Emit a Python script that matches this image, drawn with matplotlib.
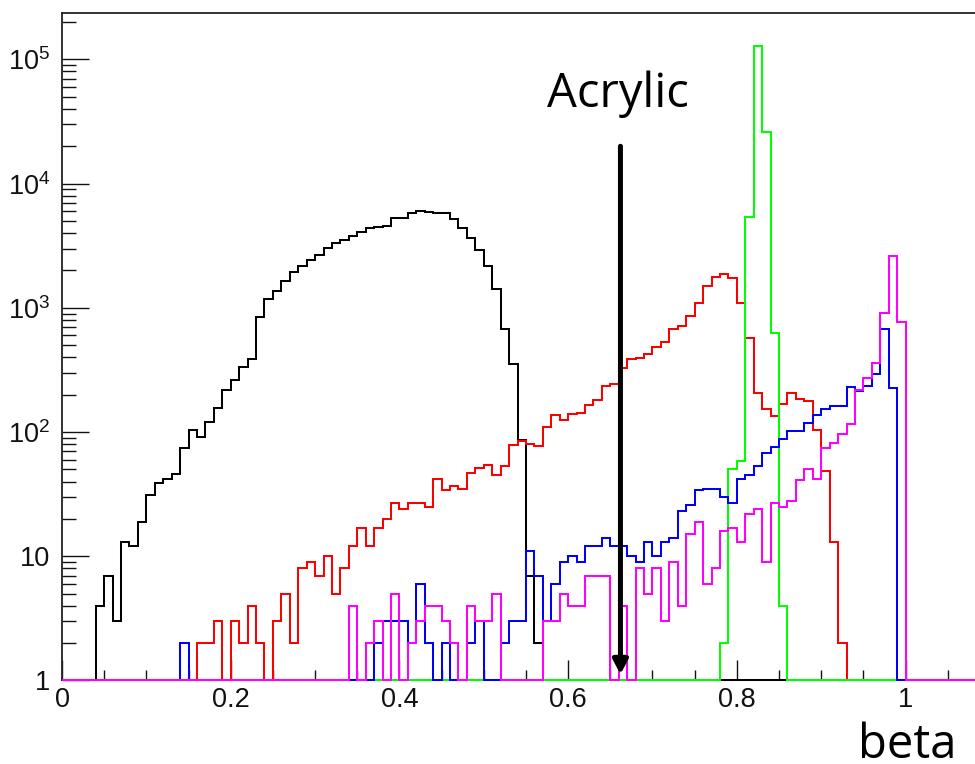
import numpy as np
import matplotlib
matplotlib.use("Agg")
import matplotlib.pyplot as plt
from matplotlib.ticker import FixedLocator, LogLocator, NullFormatter, MultipleLocator, FuncFormatter

# ---- binning -------------------------------------------------------------
bin_width = 0.01
x_min, x_max = 0.0, 1.1
y_min, y_max = 1.0, 2.38e5

# ---- histogram contents (first bin low edge + consecutive bin counts) ----
black_first = 0.04
black_counts = [4, 7, 3, 13, 12, 19, 31, 39, 42, 46,
                75, 103, 92, 120, 157, 217, 263, 334, 385, 849,
                1172, 1360, 1656, 1935, 2174, 2410, 2681, 3053, 3350, 3523,
                3795, 4061, 4377, 4508, 4593, 5263, 5290, 5776, 6029, 5917,
                5776, 5776, 5166, 4377, 3633, 2925, 2174, 1413, 673, 355,
                87, 7, 2]

red_first = 0.16
red_counts = [2, 2, 3, 0, 3, 2, 4, 2, 0, 3,
              5, 2, 8, 9, 7, 10, 5, 8, 12, 17,
              12, 17, 20, 27, 24, 27, 27, 25, 42, 34,
              37, 35, 47, 51, 54, 45, 53, 78, 85, 80,
              77, 110, 137, 125, 139, 142, 165, 181, 235, 244,
              326, 388, 397, 425, 487, 535, 673, 715, 860, 1095,
              1500, 1780, 1875, 1755, 1100, 570, 205, 152, 135, 168,
              208, 183, 177, 104, 49, 13, 2]

green_first = 0.78
green_counts = [2, 50, 58, 5420, 128000, 25900, 624, 4]

blue_low_first = 0.14
blue_low_counts = [2]
blue_first = 0.37
blue_counts = [2, 3, 3, 3, 2, 6, 2, 0, 2, 0,
               0, 2, 3, 0, 0, 2, 3, 3, 11, 7,
               3, 6, 9, 10, 9, 12, 12, 14, 12, 12,
               10, 9, 13, 10, 13, 14, 23, 26, 34, 35,
               35, 30, 27, 42, 45, 53, 68, 76, 88, 102,
               102, 118, 137, 153, 162, 162, 230, 213, 235, 292,
               670, 228]

magenta_first = 0.34
magenta_counts = [4, 0, 2, 3, 0, 5, 0, 2, 3, 4,
                  4, 3, 2, 0, 4, 3, 3, 5, 0, 0,
                  0, 0, 0, 3, 3, 5, 4, 4, 7, 7,
                  7, 0, 4, 0, 8, 5, 8, 3, 9, 4,
                  15, 19, 6, 8, 16, 17, 13, 22, 24, 9,
                  27, 25, 28, 41, 50, 42, 75, 82, 97, 117,
                  220, 271, 362, 915, 2618, 774]

# ---- annotation ----------------------------------------------------------
marker_beta = 0.662
marker_label = "Acrylic"
x_title = "beta"

# ---- style ---------------------------------------------------------------
plt.rcParams["font.family"] = ["Liberation Sans", "DejaVu Sans"]
plt.rcParams["mathtext.fontset"] = "custom"
plt.rcParams["mathtext.rm"] = "Liberation Sans"
plt.rcParams["mathtext.it"] = "Liberation Sans:italic"
plt.rcParams["mathtext.bf"] = "Liberation Sans:bold"

edges = np.round(np.arange(x_min, x_max + bin_width / 2, bin_width), 6)
n_bins = len(edges) - 1


def full_hist(parts):
    h = np.zeros(n_bins)
    for first, counts in parts:
        i0 = int(round(first / bin_width))
        h[i0:i0 + len(counts)] = counts
    return h


hists = [
    (full_hist([(black_first, black_counts)]), "#000000"),
    (full_hist([(red_first, red_counts)]), "#ff0000"),
    (full_hist([(green_first, green_counts)]), "#00ff00"),
    (full_hist([(blue_low_first, blue_low_counts), (blue_first, blue_counts)]), "#0000ff"),
    (full_hist([(magenta_first, magenta_counts)]), "#ff00ff"),
]

fig = plt.figure(figsize=(9.75, 7.64), dpi=100)
ax = fig.add_axes([0.0636, 0.1093, 0.9517, 0.8741])

for k, (values, color) in enumerate(hists):
    # empty bins sit on the log-scale floor
    ax.stairs(np.clip(values, y_min, None), edges, baseline=None,
              color=color, lw=1.45, zorder=3 + 0.1 * k, clip_on=False)

ax.set_yscale("log")
ax.set_xlim(x_min, x_max)
ax.set_ylim(y_min, y_max)

# axes frame
for side, sp in ax.spines.items():
    sp.set_linewidth(1.3)
    sp.set_color("#222222")

# x ticks
ax.xaxis.set_major_locator(MultipleLocator(0.2))
ax.xaxis.set_minor_locator(MultipleLocator(0.05))
ax.xaxis.set_major_formatter(FuncFormatter(lambda v, p: f"{v:g}"))
ax.tick_params(axis="x", which="major", direction="in", length=14.4, width=1.0,
               labelsize=19.5, pad=4.5, colors="#111111")
ax.tick_params(axis="x", which="minor", direction="in", length=7.2, width=1.0,
               colors="#111111")

# y ticks
decades = [1, 10, 100, 1e3, 1e4, 1e5]
decade_labels = ["1", "10", r"$\mathregular{10^{2}}$", r"$\mathregular{10^{3}}$",
                 r"$\mathregular{10^{4}}$", r"$\mathregular{10^{5}}$"]
ax.yaxis.set_major_locator(FixedLocator(decades))
ax.set_yticklabels(decade_labels)
ax.yaxis.set_minor_locator(LogLocator(base=10, subs=np.arange(2, 10)))
ax.yaxis.set_minor_formatter(NullFormatter())
ax.tick_params(axis="y", which="major", direction="in", length=19.4, width=1.0,
               labelsize=19.5, pad=8.5, colors="#111111")
ax.tick_params(axis="y", which="minor", direction="in", length=10.0, width=1.0,
               colors="#111111")

# marker arrow with label
ax.annotate("", xy=(marker_beta, 1.12), xytext=(marker_beta, 2.0e4),
            arrowprops=dict(arrowstyle="-|>,head_width=0.22,head_length=0.42",
                            mutation_scale=20, lw=3.6, color="black",
                            shrinkA=0, shrinkB=0),
            zorder=5)
ax.text(0.659, 4.17e4, marker_label, ha="center", va="baseline",
        fontsize=34, family=["Open Sans", "DejaVu Sans"], zorder=5)

fig.text(956 / 975, 6 / 764, x_title, ha="right", va="baseline",
         fontsize=34, family=["Open Sans", "DejaVu Sans"])

fig.savefig("out.png", dpi=100)
